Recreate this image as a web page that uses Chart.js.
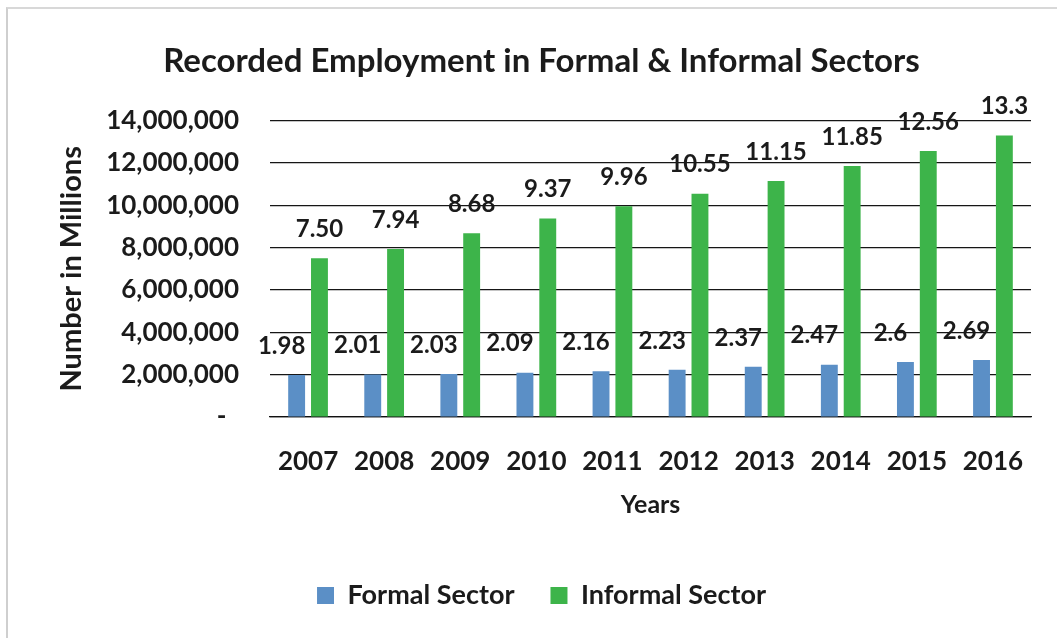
<!DOCTYPE html>
<html>
<head>
<meta charset="utf-8">
<script src="https://cdn.jsdelivr.net/npm/chart.js@4.4.1/dist/chart.umd.min.js"></script>
<style>
  html, body { margin: 0; padding: 0; background: #ffffff; }
  #frame { position: absolute; left: 6px; top: 7px; width: 1200px; height: 800px;
           border-left: 2px solid #cfcfcf; border-top: 2px solid #d8d8d8; }
  #wrap { position: absolute; left: 0; top: 0; width: 1057px; height: 638px; }
</style>
</head>
<body>
<div id="frame"></div>
<div id="wrap"><canvas id="c" width="1057" height="638"></canvas></div>
<script>
// ---- data ----
const years = ["2007","2008","2009","2010","2011","2012","2013","2014","2015","2016"];
const formalMillions   = [1.98, 2.01, 2.03, 2.09, 2.16, 2.23, 2.37, 2.47, 2.60, 2.69];
const informalMillions = [7.50, 7.94, 8.68, 9.37, 9.96, 10.55, 11.15, 11.85, 12.56, 13.30];
const formalLabels   = ["1.98","2.01","2.03","2.09","2.16","2.23","2.37","2.47","2.6","2.69"];
const informalLabels = ["7.50","7.94","8.68","9.37","9.96","10.55","11.15","11.85","12.56","13.3"];
const yTickValues = [0, 2000000, 4000000, 6000000, 8000000, 10000000, 12000000, 14000000];

const FONT = "Lato, 'Open Sans', 'DejaVu Sans', sans-serif";
const TEXT = "#1b1b1b";

Chart.defaults.font.family = FONT;
Chart.defaults.font.weight = "bold";
Chart.defaults.color = TEXT;

const valueLabels = {
  id: "valueLabels",
  afterDatasetsDraw(chart) {
    const ctx = chart.ctx;
    ctx.save();
    ctx.font = "bold 24px " + FONT;
    ctx.fillStyle = TEXT;
    ctx.textAlign = "center";
    ctx.textBaseline = "middle";
    const sets = [
      { idx: 0, labels: formalLabels, dx: -15 },
      { idx: 1, labels: informalLabels, dx: 0 }
    ];
    sets.forEach(s => {
      const meta = chart.getDatasetMeta(s.idx);
      meta.data.forEach((bar, i) => {
        ctx.fillText(s.labels[i], bar.x + s.dx, bar.y - 29);
      });
    });
    ctx.restore();
  }
};

new Chart(document.getElementById("c"), {
  type: "bar",
  data: {
    labels: years,
    datasets: [
      {
        label: "Formal Sector",
        data: formalMillions.map(v => v * 1e6),
        backgroundColor: "#5b8fc6",
        categoryPercentage: 0.6,
        barPercentage: 0.74
      },
      {
        label: "Informal Sector",
        data: informalMillions.map(v => v * 1e6),
        backgroundColor: "#3db44a",
        categoryPercentage: 0.6,
        barPercentage: 0.74
      }
    ]
  },
  options: {
    responsive: false,
    animation: false,
    layout: { padding: { left: 52, right: 26, top: 0, bottom: 19 } },
    plugins: {
      title: {
        display: true,
        text: "Recorded Employment in Formal & Informal Sectors",
        font: { size: 33, weight: "bold" },
        color: TEXT,
        padding: { top: 42, bottom: 39 }
      },
      legend: {
        display: true,
        position: "bottom",
        labels: {
          font: { size: 27, weight: "bold" },
          color: TEXT,
          boxWidth: 17,
          boxHeight: 17,
          padding: 36
        }
      },
      tooltip: { enabled: false }
    },
    scales: {
      x: {
        grid: { display: false, drawTicks: false },
        border: { display: true, color: "#111", width: 1.2 },
        ticks: { font: { size: 26, weight: "bold" }, color: TEXT, padding: 29 },
        title: {
          display: true, text: "Years",
          font: { size: 25, weight: "bold" }, color: TEXT,
          padding: { top: 0, bottom: 26 }
        },
        afterFit(scale) { scale.height = 129; }
      },
      y: {
        min: 0,
        max: 14000000,
        afterBuildTicks(scale) { scale.ticks = yTickValues.map(v => ({ value: v })); },
        grid: { color: "#161616", lineWidth: 1.2, drawTicks: false },
        border: { display: false },
        ticks: {
          font: { size: 26, weight: "bold" }, color: TEXT, padding: 31,
          callback(v) { return v === 0 ? "-  " : v.toLocaleString("en-US"); }
        },
        title: {
          display: true, text: "Number in Millions",
          font: { size: 29, weight: "bold" }, color: TEXT,
          padding: { top: 2, bottom: 0 }
        },
        afterFit(scale) { scale.width = 218; }
      }
    }
  },
  plugins: [valueLabels]
});
</script>
</body>
</html>
